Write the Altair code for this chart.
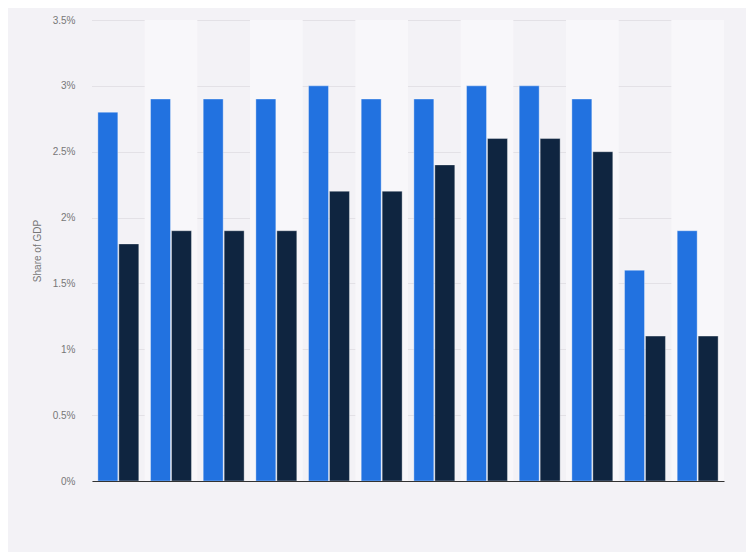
import altair as alt
import pandas as pd

categories = ["2009", "2010", "2011", "2012", "2013", "2014",
              "2015", "2016", "2017", "2018", "2019", "2020"]
series_names = ["Series 1", "Series 2"]
series1 = [2.8, 2.9, 2.9, 2.9, 3.0, 2.9, 2.9, 3.0, 3.0, 2.9, 1.6, 1.9]
series2 = [1.8, 1.9, 1.9, 1.9, 2.2, 2.2, 2.4, 2.6, 2.6, 2.5, 1.1, 1.1]
y_ticks = [0, 0.5, 1, 1.5, 2, 2.5, 3, 3.5]

rows = []
for c, a, b in zip(categories, series1, series2):
    rows.append({"cat": c, "series": series_names[0], "value": a})
    rows.append({"cat": c, "series": series_names[1], "value": b})
df = pd.DataFrame(rows)

band_df = pd.DataFrame({"cat": [c for i, c in enumerate(categories) if i % 2 == 1]})

W, H = 632, 461

xscale = alt.Scale(domain=categories, paddingInner=0, paddingOuter=0)
yscale = alt.Scale(domain=[0, 3.5], nice=False)

bands = alt.Chart(band_df).mark_rect(color="#f8f7fa").encode(
    x=alt.X("cat:N", scale=xscale, sort=categories,
            axis=alt.Axis(labels=False, ticks=False, title=None,
                          domain=True, domainColor="#333333", domainWidth=1.2, grid=False)),
    y=alt.datum(0, scale=yscale),
    y2=alt.datum(3.5),
)

bars = alt.Chart(df).mark_bar(stroke="#ffffff", strokeWidth=1, strokeOpacity=0.35).encode(
    x=alt.X("cat:N", scale=xscale, sort=categories),
    xOffset=alt.XOffset("series:N", sort=series_names,
                        scale=alt.Scale(paddingInner=0.048, paddingOuter=0.28)),
    y=alt.Y("value:Q", scale=yscale,
            axis=alt.Axis(values=y_ticks, labelExpr="datum.value + '%'",
                          title="Share of GDP", titleFontSize=10, titleFontWeight="normal",
                          titleColor="#777777", titlePadding=10, titleFont="Liberation Sans",
                          labelFont="Liberation Sans", labelFontSize=10, labelColor="#777777",
                          labelPadding=17, ticks=False, domain=False,
                          grid=True, gridColor="#d2d1d7", gridDash=[1, 1], gridWidth=1)),
    color=alt.Color("series:N", sort=series_names,
                    scale=alt.Scale(domain=series_names, range=["#2272e0", "#0f2540"]),
                    legend=None),
)

chart = alt.layer(bands, bars).properties(
    width=W, height=H,
    background="#f3f2f6",
    padding={"left": 84, "top": 12, "right": 22, "bottom": 71},
    autosize=alt.AutoSizeParams(type="none"),
).configure_view(stroke=None)

chart.save("out.html", embed_options={"renderer": "svg", "actions": False})
